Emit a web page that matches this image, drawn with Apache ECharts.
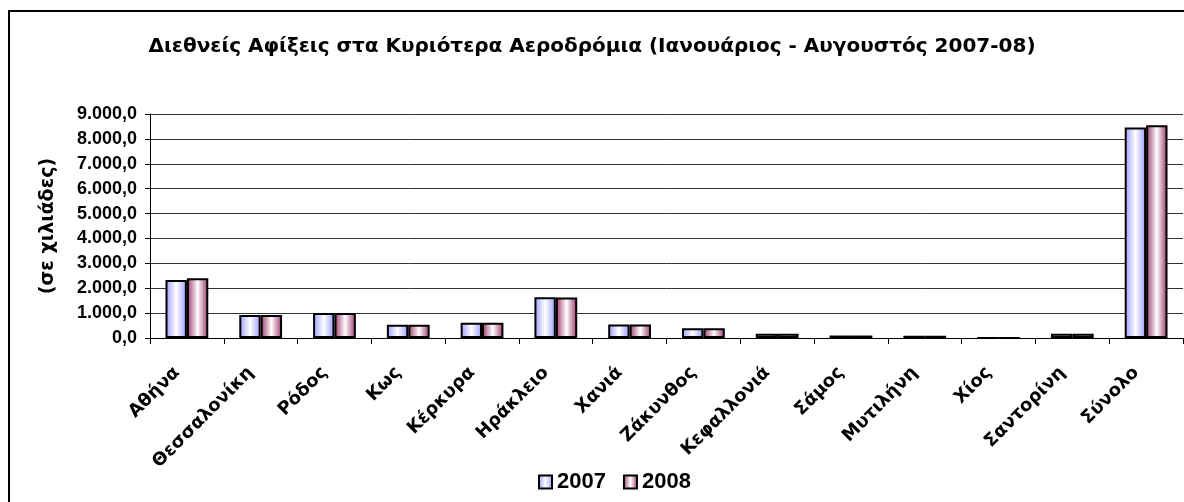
<!DOCTYPE html>
<html>
<head>
<meta charset="utf-8">
<script src="https://cdn.jsdelivr.net/npm/echarts@6/dist/echarts.min.js"></script>
<style>
  html, body { margin: 0; padding: 0; background: #fff; }
  #airport_chart { width: 1184px; height: 502px; }
</style>
</head>
<body>
<div id="airport_chart"></div>
<script>
// airports and arrivals (in thousands)
var airports = ['Αθήνα', 'Θεσσαλονίκη', 'Ρόδος', 'Κως', 'Κέρκυρα', 'Ηράκλειο', 'Χανιά',
    'Ζάκυνθος', 'Κεφαλλονιά', 'Σάμος', 'Μυτιλήνη', 'Χίος', 'Σαντορίνη', 'Σύνολο'];
var arrivals2007 = [2330, 920, 1000, 530, 610, 1640, 540, 390, 170, 100, 90, 0, 170, 8460];
var arrivals2008 = [2400, 920, 1000, 530, 610, 1630, 540, 390, 170, 100, 90, 0, 170, 8550];
var seriesNames = ['2007', '2008'];

var myChart = echarts.init(document.getElementById('airport_chart'));

var numFont = '"Liberation Sans", Arial, sans-serif';
var textFont = '"DejaVu Sans", Verdana, sans-serif';

// excel style "from centre" fill: dark at the edges, white in the middle
function barFill(edge) {
    return new echarts.graphic.LinearGradient(0, 0, 1, 0, [
        {offset: 0, color: edge},
        {offset: 0.5, color: '#ffffff'},
        {offset: 1, color: edge}
    ]);
}

function greekNumber(v) {
    var s = Math.round(v).toString().replace(/\B(?=(\d{3})+(?!\d))/g, '.');
    return s + ',0';
}

var option = {
    animation: false,
    backgroundColor: '#fff',
    graphic: [{
        type: 'rect',
        shape: {x: 9, y: 11, width: 1300, height: 600},
        style: {fill: 'none', stroke: '#000', lineWidth: 2},
        silent: true
    }],
    title: {
        text: 'Διεθνείς Αφίξεις στα Κυριότερα Αεροδρόμια (Ιανουάριος - Αυγουστός 2007-08)',
        left: 'center',
        top: 32,
        textStyle: {fontFamily: textFont, fontWeight: 'bold', fontSize: 20, color: '#000'}
    },
    legend: {
        bottom: 4,
        left: 533,
        itemWidth: 13,
        itemHeight: 13,
        itemGap: 17,
        icon: 'rect',
        textStyle: {fontFamily: numFont, fontWeight: 'bold', fontSize: 22, color: '#000'},
        data: seriesNames
    },
    grid: {left: 150, right: 1, top: 114, bottom: 164, containLabel: false},
    xAxis: {
        type: 'category',
        data: airports,
        boundaryGap: true,
        axisLine: {lineStyle: {color: '#000', width: 1}},
        axisTick: {show: true, length: 6, lineStyle: {color: '#000'}},
        axisLabel: {
            rotate: 45,
            interval: 0,
            margin: 22,
            padding: [0, 14, 0, 0],
            fontFamily: textFont,
            fontWeight: 'bold',
            fontSize: 18,
            color: '#000'
        }
    },
    yAxis: {
        type: 'value',
        min: 0,
        max: 9000,
        interval: 1000,
        name: '(σε χιλιάδες)',
        nameLocation: 'middle',
        nameGap: 92,
        nameTextStyle: {fontFamily: textFont, fontWeight: 'bold', fontSize: 19, color: '#000'},
        axisLine: {show: true, lineStyle: {color: '#000'}},
        axisTick: {show: true, length: 5, lineStyle: {color: '#000'}},
        splitLine: {lineStyle: {color: '#333', width: 1}},
        axisLabel: {
            margin: 13,
            fontFamily: numFont,
            fontWeight: 'bold',
            fontSize: 18,
            color: '#000',
            formatter: greekNumber
        }
    },
    series: [{
        name: seriesNames[0],
        type: 'bar',
        data: arrivals2007,
        barGap: '0%',
        barCategoryGap: '42%',
        itemStyle: {color: barFill('#9999ff'), borderColor: '#000', borderWidth: 2}
    }, {
        name: seriesNames[1],
        type: 'bar',
        data: arrivals2008,
        barGap: '0%',
        barCategoryGap: '42%',
        itemStyle: {color: barFill('#993366'), borderColor: '#000', borderWidth: 2}
    }]
};

myChart.setOption(option);
</script>
</body>
</html>
